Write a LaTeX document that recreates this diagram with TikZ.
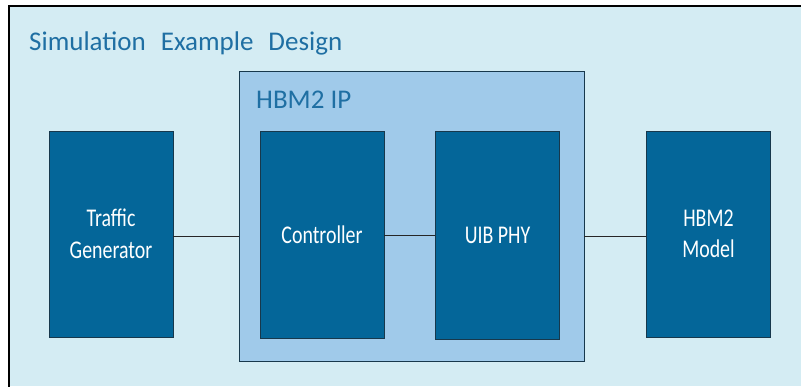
\documentclass[tikz,border=0pt]{standalone}
\usepackage{fontspec}
\setmainfont{Carlito}
\newfontfamily\blockfont[FakeStretch=0.78]{Carlito}
\definecolor{bgpale}{HTML}{D4ECF3}
\definecolor{ipfill}{HTML}{A0CAEA}
\definecolor{blockfill}{HTML}{046699}
\definecolor{blockline}{HTML}{17384C}
\definecolor{titleblue}{HTML}{1F6FA3}
\begin{document}
\begin{tikzpicture}[x=1pt,y=-1pt,
  blockbox/.style={draw=blockline,line width=0.9pt,fill=blockfill,text=white,
    align=center,font=\blockfont\fontsize{25.5}{31.5}\selectfont,inner sep=0pt},
  heading/.style={anchor=base west,text=titleblue,font=\fontsize{27}{32}\selectfont,inner sep=0pt},
  wire/.style={draw=black!85,line width=0.8pt}]
  \useasboundingbox (0,0) rectangle (801,386);
  % outer design frame, running off the right and bottom edges
  \fill[white] (0,0) rectangle (801,386);
  \fill[bgpale] (9,6) rectangle (801,386);
  \draw[line width=1.2pt] (9,394) -- (9,6) -- (810,6);
  \node[heading] (title) at (29,50.5) {Simulation\hspace{15pt}Example\hspace{15pt}Design};
  % HBM2 IP container
  \node[draw=blockline,line width=0.9pt,fill=ipfill,minimum width=345pt,minimum height=290pt,
    inner sep=0pt] (ip) at (411.5,216.7) {};
  \node[heading] (iplabel) at (256,108.3) {HBM2 IP};
  % functional blocks
  \node[blockbox,minimum width=124pt,minimum height=206pt] (tg) at (111,234) {Traffic\\Generator};
  \node[blockbox,minimum width=124pt,minimum height=207pt] (ctrl) at (322,235) {Controller};
  \node[blockbox,minimum width=124pt,minimum height=208pt] (phy) at (497.5,235.3) {UIB PHY};
  \node[blockbox,minimum width=124pt,minimum height=206pt] (model) at (708.5,234) {HBM2\\Model};
  % connections
  \draw[wire] (tg.east |- 0,236) -- (ip.west |- 0,236);
  \draw[wire] (ctrl.east |- 0,235) -- (phy.west |- 0,235);
  \draw[wire] (ip.east |- 0,236) -- (model.west |- 0,236);
\end{tikzpicture}
\end{document}
